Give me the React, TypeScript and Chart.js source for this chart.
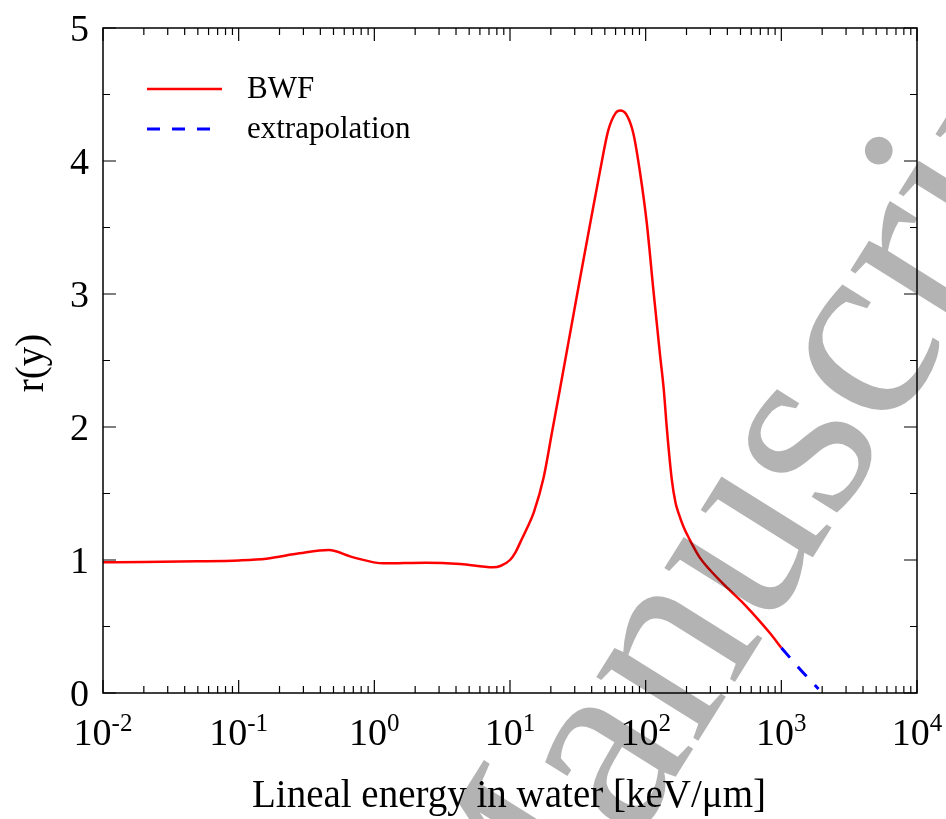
import React, { useEffect, useRef } from "react";
import { Chart, registerables } from "chart.js";

Chart.register(...registerables);

// ---- data ----
const bwfX = [0.01, 0.02, 0.05, 0.1, 0.16, 0.28, 0.46, 0.7, 1.17, 2.4, 4.3, 7.5, 8.5, 10, 11, 12, 13.5, 15, 17.7, 20.4, 23.5, 27, 33, 39, 46, 53, 60, 65, 72, 81, 91, 102, 114, 128, 136, 143.5, 156, 166, 175, 190, 212, 250, 298, 400, 525, 700, 826, 1000];
const bwfY = [0.983, 0.985, 0.99, 0.997, 1.01, 1.05, 1.075, 1.02, 0.975, 0.98, 0.97, 0.945, 0.955, 1.0, 1.06, 1.14, 1.25, 1.36, 1.62, 1.96, 2.3, 2.64, 3.13, 3.53, 3.92, 4.23, 4.36, 4.38, 4.35, 4.21, 3.91, 3.53, 3.03, 2.53, 2.28, 1.98, 1.6, 1.43, 1.35, 1.25, 1.15, 1.02, 0.925, 0.79, 0.674, 0.535, 0.449, 0.34];
const extX = [1000, 1400, 1880];
const extY = [0.34, 0.17, 0.03];

const xExponents = [-2, -1, 0, 1, 2, 3, 4];
const yTicks = [0, 1, 2, 3, 4, 5];
const yMinorTicks = [0.5, 1.5, 2.5, 3.5, 4.5];
const seriesLabels = ["BWF", "extrapolation"];
const xTitle = "Lineal energy in water [keV/\u03bcm]";
const yTitle = "r(y)";
const watermark = "Manuscript";

const SERIF = '"Liberation Serif", "DejaVu Serif", serif';

const overlay = {
  id: "overlay",
  beforeDraw(chart: any) {
    const ctx = chart.ctx;
    ctx.save();
    ctx.fillStyle = "#ffffff";
    ctx.fillRect(0, 0, chart.width, chart.height);
    ctx.restore();
  },
  afterDraw(chart: any) {
    const ctx: CanvasRenderingContext2D = chart.ctx;
    const { left, right, top, bottom } = chart.chartArea;
    const xs = chart.scales.x;
    const ys = chart.scales.y;
    ctx.save();
    // frame
    ctx.strokeStyle = "#000";
    ctx.lineWidth = 1.5;
    ctx.strokeRect(left, top, right - left, bottom - top);
    ctx.lineWidth = 1.2;
    const MAJ = 13, MIN = 7;
    // x ticks
    for (let e = -2; e <= 4; e++) {
      for (let k = 1; k <= 9; k++) {
        if (e === 4 && k > 1) break;
        const v = k * Math.pow(10, e);
        const px = xs.getPixelForValue(v);
        const len = k === 1 ? MAJ : MIN;
        ctx.beginPath();
        ctx.moveTo(px, bottom);
        ctx.lineTo(px, bottom - len);
        ctx.moveTo(px, top);
        ctx.lineTo(px, top + len);
        ctx.stroke();
      }
    }
    // y ticks
    const yAll = [...yTicks.map((v) => [v, MAJ]), ...yMinorTicks.map((v) => [v, MIN])];
    for (const [v, len] of yAll) {
      const py = ys.getPixelForValue(v);
      ctx.beginPath();
      ctx.moveTo(left, py);
      ctx.lineTo(left + len, py);
      ctx.moveTo(right, py);
      ctx.lineTo(right - len, py);
      ctx.stroke();
    }
    // x tick labels with superscripts
    ctx.fillStyle = "#000";
    ctx.textBaseline = "alphabetic";
    ctx.textAlign = "left";
    const baseFont = `38px ${SERIF}`;
    const supFont = `25px ${SERIF}`;
    for (const e of xExponents) {
      const px = xs.getPixelForValue(Math.pow(10, e));
      ctx.font = baseFont;
      const w1 = ctx.measureText("10").width;
      ctx.font = supFont;
      const sup = String(e);
      const w2 = ctx.measureText(sup).width;
      const x0 = px - (w1 + w2) / 2;
      ctx.font = baseFont;
      ctx.fillText("10", x0, 745);
      ctx.font = supFont;
      ctx.fillText(sup, x0 + w1, 731);
    }
    // y tick labels
    ctx.font = baseFont;
    ctx.textAlign = "right";
    for (const v of yTicks) {
      const py = ys.getPixelForValue(v);
      ctx.fillText(String(v), 89, py + 13);
    }
    // titles
    ctx.font = `39px ${SERIF}`;
    ctx.textAlign = "center";
    ctx.fillText(xTitle, 509, 807);
    ctx.save();
    ctx.translate(43, 363);
    ctx.rotate(-Math.PI / 2);
    ctx.fillText(yTitle, 0, 0);
    ctx.restore();
    // legend
    const ds = chart.data.datasets;
    const rows = [89, 129];
    ds.forEach((d: any, i: number) => {
      ctx.save();
      ctx.strokeStyle = d.borderColor;
      ctx.lineWidth = d.borderWidth;
      ctx.setLineDash(d.borderDash || []);
      ctx.beginPath();
      ctx.moveTo(147, rows[i]);
      ctx.lineTo(222, rows[i]);
      ctx.stroke();
      ctx.restore();
      ctx.font = `31px ${SERIF}`;
      ctx.textAlign = "left";
      ctx.fillStyle = "#000";
      ctx.fillText(d.label, 247, rows[i] + 9);
    });
    // watermark
    ctx.save();
    ctx.globalCompositeOperation = "multiply";
    ctx.fillStyle = "#b3b3b3";
    ctx.font = `262px ${SERIF}`;
    ctx.textAlign = "left";
    ctx.translate(510, 1042);
    ctx.rotate((-58 * Math.PI) / 180);
    ctx.fillText(watermark, 0, 0);
    ctx.restore();
    ctx.restore();
  },
};

export default function App() {
  const ref = useRef<HTMLCanvasElement | null>(null);
  useEffect(() => {
    if (!ref.current) return;
    const chart = new Chart(ref.current, {
      type: "line",
      data: {
        datasets: [
          {
            label: seriesLabels[0],
            data: bwfX.map((x, i) => ({ x, y: bwfY[i] })),
            borderColor: "#ff0000",
            borderWidth: 2.5,
            pointRadius: 0,
            cubicInterpolationMode: "monotone",
            fill: false,
          },
          {
            label: seriesLabels[1],
            data: extX.map((x, i) => ({ x, y: extY[i] })),
            borderColor: "#0000ff",
            borderWidth: 3,
            borderDash: [13, 12],
            pointRadius: 0,
            cubicInterpolationMode: "monotone",
            fill: false,
          },
        ],
      },
      options: {
        animation: false,
        responsive: false,
        devicePixelRatio: 1,
        layout: { padding: { left: 103, right: 29, top: 28, bottom: 126 } },
        plugins: { legend: { display: false }, tooltip: { enabled: false } },
        scales: {
          x: { type: "logarithmic", min: 0.01, max: 10000, display: false },
          y: { type: "linear", min: 0, max: 5, display: false },
        },
      },
      plugins: [overlay],
    });
    return () => chart.destroy();
  }, []);
  return (
    <div style={{ position: "absolute", left: 0, top: 0, width: 946, height: 819 }}>
      <canvas ref={ref} width={946} height={819} style={{ display: "block" }} />
    </div>
  );
}
